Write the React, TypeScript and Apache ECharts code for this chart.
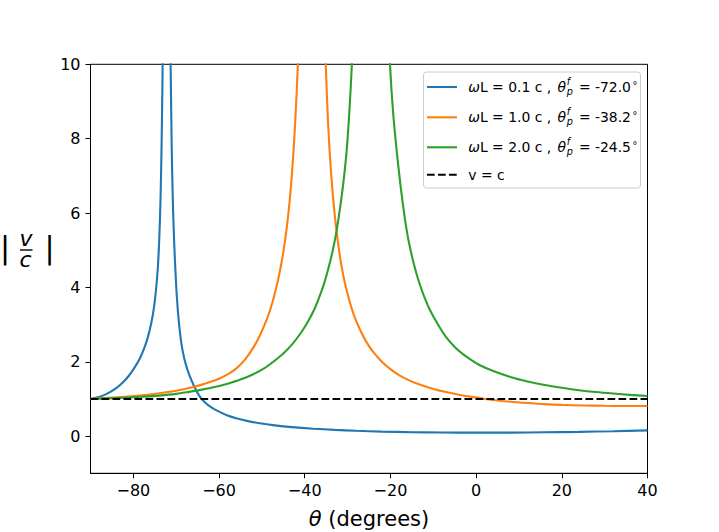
import React, { useEffect, useRef } from "react";
import * as echarts from "echarts";

const xTicks = [-80, -60, -40, -20, 0, 20, 40];
const yTicks = [0, 2, 4, 6, 8, 10];

// ωL = 0.1 c
const blueTheta = [-90, -88, -86, -84, -82.4, -81, -79.8, -78.6, -77.5, -76.6, -75.8, -75.2, -74.7, -74.3, -73.95, -73.65,
  -73.4, -73.2, -73, -72.7, -72.4, -72.1, -71.8, -71.5, -71.3, -71.05, -70.8, -70.5, -70.2, -69.85, -69.4, -68.8,
  -68.1, -67.3, -66.4, -65.4, -64.4, -63.2, -61.8, -60, -58, -56, -53.5, -50.5, -47, -43, -38, -33, -28, -22, -15,
  -8, 0, 8, 16, 24, 32, 40];
const blueV = [1.0, 1.05, 1.15, 1.29, 1.45, 1.63, 1.83, 2.06, 2.35, 2.67, 3.05, 3.45, 3.95, 4.5, 5.3, 6.4,
  7.9, 9.6, 12, 18, 40, 40, 18, 12.5, 10, 7.8, 6.4, 5.3, 4.5, 3.75, 3.1, 2.5,
  2.08, 1.76, 1.49, 1.24, 1.05, 0.9, 0.775, 0.66, 0.555, 0.48, 0.41, 0.345, 0.29, 0.243, 0.2, 0.168, 0.143, 0.122, 0.106,
  0.097, 0.093, 0.095, 0.103, 0.115, 0.132, 0.155];

// ωL = 1.0 c
const orangeTheta = [-90, -86, -82, -78, -74, -70, -67, -64, -62, -60, -58, -56, -54, -52, -50.5, -49, -48, -47, -46, -45,
  -44.2, -43.5, -42.8, -42.2, -41.6, -41, -40.2, -39.2, -37.4, -36.3, -35.6, -35.1, -34.5, -33.8, -33, -32, -31, -30,
  -29, -28, -26.5, -25, -23.5, -22, -20, -18, -16, -14, -12, -10, -7, -4, -1, 2, 5, 8, 12, 16, 20, 25, 30, 35, 40];
const orangeV = [1.0, 1.03, 1.06, 1.1, 1.155, 1.22, 1.295, 1.385, 1.46, 1.545, 1.66, 1.815, 2.05, 2.38, 2.7, 3.1, 3.42, 3.83, 4.32, 4.95,
  5.6, 6.35, 7.35, 8.5, 10, 12.2, 17, 40, 40, 16, 12, 10, 8.3, 7.0, 5.95, 5.0, 4.32, 3.82,
  3.42, 3.1, 2.72, 2.42, 2.19, 2.0, 1.8, 1.64, 1.52, 1.42, 1.34, 1.27, 1.185, 1.115, 1.055, 1.0, 0.96, 0.925, 0.89, 0.86,
  0.84, 0.825, 0.815, 0.81, 0.81];

// ωL = 2.0 c
const greenTheta = [-90, -86, -82, -78, -74, -70, -67, -64, -61, -58, -55, -52, -49.5, -47, -45, -43, -41, -39.5, -38, -36.8,
  -35.6, -34.5, -33.5, -32.6, -31.8, -31, -30.2, -29.6, -29.0, -28.2, -27.2, -26, -23.1, -21.9, -21, -20.1, -19.3,
  -18.1, -17, -16, -15, -14, -13, -12, -10.8, -9, -7, -5, -3, -1, 1, 4, 8, 12, 16, 20, 24, 28, 32, 36, 40];
const greenV = [1.0, 1.015, 1.035, 1.06, 1.09, 1.135, 1.19, 1.25, 1.32, 1.41, 1.52, 1.665, 1.82, 2.03, 2.22, 2.46, 2.76, 3.03, 3.35, 3.68,
  4.06, 4.5, 4.97, 5.5, 6.1, 6.8, 7.7, 8.7, 10, 12.4, 17, 40, 40, 17, 12.6, 10, 8.6,
  7.2, 6.15, 5.4, 4.85, 4.4, 4.03, 3.72, 3.4, 3.02, 2.66, 2.4, 2.2, 2.04, 1.9, 1.75, 1.59, 1.47, 1.375, 1.3, 1.235, 1.185,
  1.145, 1.11, 1.08];

const lightTheta = [-90, 40];
const lightV = [1, 1];

const omegaL = ["0.1", "1.0", "2.0"];
const thetaP = ["-72.0", "-38.2", "-24.5"];
const colors = ["#1f77b4", "#ff7f0e", "#2ca02c"];

const FF = '"DejaVu Sans", sans-serif';

function pairs(xs: number[], ys: number[]) {
  return xs.map((x, i) => [x, ys[i]]);
}

export default function App() {
  const ref = useRef<HTMLDivElement>(null);
  useEffect(() => {
    const chart = echarts.init(ref.current!, null, { renderer: "svg" });
    const ctx = document.createElement("canvas").getContext("2d")!;
    const measure = (t: string, size: number, italic: boolean) => {
      ctx.font = `${italic ? "italic " : ""}${size}px "DejaVu Sans"`;
      return ctx.measureText(t).width;
    };
    const fs = 13.9;
    const small = 9.7;
    const rowsY = [87, 117.3, 147.3, 174.7];
    const legendEls: any[] = [];
    legendEls.push({
      type: "rect",
      shape: { x: 423.5, y: 72, width: 217, height: 116, r: 3 },
      style: { fill: "rgba(255,255,255,0.8)", stroke: "#cccccc", lineWidth: 1 },
    });
    const txt = (t: string, x: number, y: number, size: number, italic: boolean) => ({
      type: "text",
      x,
      y,
      style: {
        text: t,
        fontSize: size,
        fontFamily: FF,
        fontStyle: italic ? "italic" : "normal",
        fill: "#000",
        align: "left",
        verticalAlign: "middle",
        lineHeight: size,
      },
    });
    for (let i = 0; i < 3; i++) {
      const cy = rowsY[i];
      legendEls.push({
        type: "line",
        shape: { x1: 427, y1: cy, x2: 457, y2: cy },
        style: { stroke: colors[i], lineWidth: 2.1 },
      });
      let x = 468.3;
      legendEls.push(txt("ω", x, cy, fs, true));
      x += measure("ω", fs, true);
      const mid = "L = " + omegaL[i] + " c , ";
      legendEls.push(txt(mid, x, cy, fs, false));
      x += measure(mid, fs, false) + 2;
      legendEls.push(txt("θ", x, cy, fs, true));
      x += measure("θ", fs, true) + 0.8;
      legendEls.push(txt("f", x, cy - 5.5, small, true));
      legendEls.push(txt("p", x, cy + 4.5, small, true));
      x += Math.max(measure("f", small, true), measure("p", small, true)) + 1.5;
      const eq = " = " + thetaP[i];
      legendEls.push(txt(eq, x, cy, fs, false));
      x += measure(eq, fs, false) + 1.5;
      legendEls.push(txt("°", x, cy - 1.5, small, false));
    }
    legendEls.push({
      type: "line",
      shape: { x1: 427, y1: rowsY[3], x2: 457, y2: rowsY[3] },
      style: { stroke: "#000", lineWidth: 2.1, lineDash: [7.7, 3.3] },
    });
    legendEls.push(txt("v = c", 468.3, rowsY[3], fs, false));

    const ylabelEls: any[] = [
      { type: "text", x: 5, y: 247.5, style: { text: "|", fontSize: 30, lineHeight: 30, fontFamily: FF, fill: "#000", align: "center", verticalAlign: "middle" } },
      { type: "text", x: 26, y: 238.6, style: { text: "v", fontSize: 22, lineHeight: 20, fontStyle: "italic", fontFamily: FF, fill: "#000", align: "center", verticalAlign: "middle" } },
      { type: "line", shape: { x1: 20, y1: 250, x2: 32.5, y2: 250 }, style: { stroke: "#000", lineWidth: 1.4 } },
      { type: "text", x: 25.5, y: 259.4, style: { text: "c", fontSize: 22, lineHeight: 20, fontStyle: "italic", fontFamily: FF, fill: "#000", align: "center", verticalAlign: "middle" } },
      { type: "text", x: 49.5, y: 247.5, style: { text: "|", fontSize: 30, lineHeight: 30, fontFamily: FF, fill: "#000", align: "center", verticalAlign: "middle" } },
    ];

    const fmt = (v: number) => String(v).replace("-", "\u2212");
    const lineSeries = (name: string, data: number[][], color: string, dashed = false) => ({
      name,
      type: "line",
      data,
      symbol: "none",
      smooth: dashed ? false : 0.3,
      clip: true,
      lineStyle: { color, width: 2.1, type: dashed ? [7.7, 3.3] : "solid" },
      itemStyle: { color },
      z: 3,
    });

    chart.setOption({
      animation: false,
      backgroundColor: "#fff",
      grid: {
        left: 90.5,
        top: 64.3,
        width: 557,
        height: 409,
        show: true,
        borderColor: "#000",
        borderWidth: 1,
        backgroundColor: "transparent",
        containLabel: false,
        outerBoundsMode: "none",
      },
      xAxis: {
        type: "value",
        min: -90,
        max: 40,
        name: "{i|θ} (degrees)",
        nameLocation: "middle",
        nameGap: 35,
        nameTextStyle: {
          fontSize: 21,
          fontFamily: FF,
          color: "#000",
          rich: { i: { fontSize: 21, fontFamily: FF, fontStyle: "italic", color: "#000" } },
        },
        axisLine: { show: true, onZero: false, lineStyle: { color: "#000", width: 1 } },
        axisTick: { show: true, inside: false, length: 5, lineStyle: { color: "#000", width: 1 }, customValues: xTicks },
        axisLabel: { show: true, margin: 9, fontSize: 16, fontFamily: FF, color: "#000", formatter: fmt, customValues: xTicks },
        splitLine: { show: false },
      },
      yAxis: {
        type: "value",
        min: -1,
        max: 10,
        axisLine: { show: true, onZero: false, lineStyle: { color: "#000", width: 1 } },
        axisTick: { show: true, inside: false, length: 5, lineStyle: { color: "#000", width: 1 }, customValues: yTicks },
        axisLabel: { show: true, margin: 10, fontSize: 16, fontFamily: FF, color: "#000", formatter: fmt, customValues: yTicks },
        splitLine: { show: false },
      },
      series: [
        lineSeries("ωL = 0.1 c", pairs(blueTheta, blueV), colors[0]),
        lineSeries("ωL = 1.0 c", pairs(orangeTheta, orangeV), colors[1]),
        lineSeries("ωL = 2.0 c", pairs(greenTheta, greenV), colors[2]),
        lineSeries("v = c", pairs(lightTheta, lightV), "#000", true),
      ],
      graphic: [
        { type: "group", z: 100, children: legendEls },
        { type: "group", z: 100, children: ylabelEls },
      ],
    });
    return () => chart.dispose();
  }, []);
  return <div ref={ref} style={{ position: "fixed", left: 0, top: 0, width: 719, height: 532 }} />;
}
